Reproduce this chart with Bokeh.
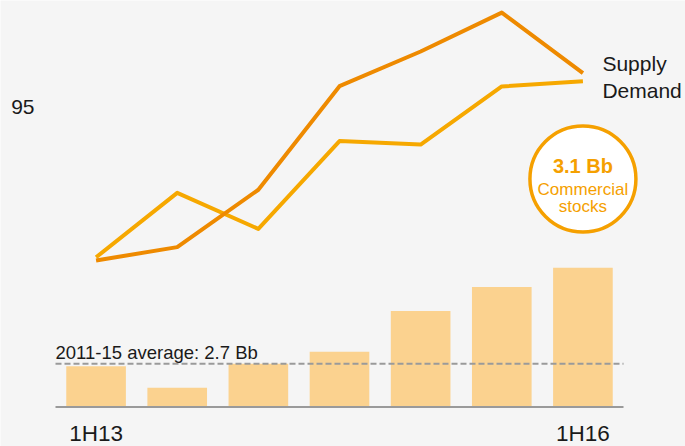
from bokeh.plotting import figure
from bokeh.models import Range1d, FixedTicker
from bokeh.core.properties import value
from bokeh.embed import file_html
from bokeh.resources import INLINE

# ---- data ----
periods = ["1H13", "2H13", "1H14", "2H14", "1H15", "2H15", "1H16"]
supply = [90.63, 91.01, 92.65, 95.61, 96.60, 97.71, 95.98]   # mb/d
demand = [90.72, 92.56, 91.53, 94.04, 93.94, 95.60, 95.75]   # mb/d
stocks = [2.69, 2.60, 2.70, 2.75, 2.92, 3.02, 3.10]          # Bb
avg_stocks = 2.7
shown_x_labels = ["1H13", "1H16"]
y_ticks = [95]

# ---- style ----
FONT = "Liberation Sans"
BG = "#f5f5f5"
TEXT = "#1a1a1a"
SUPPLY_C = "#ee8a00"
DEMAND_C = "#f6a800"
BAR_C = "#fbd28f"
GRAY = "#9a9a9a"
CALLOUT_C = "#f5a000"
STOCK_FLOOR = 2.52
CALLOUT_Y = 3.47

# positions of the half-year periods on the x scale (one unit per period)
xs = [i + 0.5 for i in range(len(periods))]
n = len(periods)

p = figure(width=685, height=446,
           x_range=Range1d(-55 * n / 568, 630 * n / 568),
           y_range=Range1d(85.314, 98.057),
           output_backend="svg", toolbar_location=None,
           min_border_left=0, min_border_right=0,
           min_border_top=0, min_border_bottom=0,
           background_fill_color=BG, border_fill_color=BG,
           outline_line_color=None)
p.extra_y_ranges = {"stocks": Range1d(2.3554, 4.2138)}
p.grid.visible = False

# x axis: period labels, placed at the stocks baseline
xa = p.xaxis[0]
xa.ticker = FixedTicker(ticks=xs)
xa.major_label_overrides = {x: (lab if lab in shown_x_labels else "")
                            for x, lab in zip(xs, periods)}
xa.y_range_name = "stocks"
xa.fixed_location = STOCK_FLOOR
xa.axis_line_color = None
xa.major_tick_line_color = None
xa.minor_tick_line_color = None
xa.major_tick_out = 0
xa.major_tick_in = 0
xa.minor_tick_out = 0
xa.minor_tick_in = 0
xa.major_label_standoff = 14
xa.major_label_text_font = FONT
xa.major_label_text_font_size = "22.5px"
xa.major_label_text_color = TEXT

# y axis: single reference level, placed at the start of the periods
ya = p.yaxis[0]
ya.ticker = FixedTicker(ticks=y_ticks)
ya.fixed_location = 0
ya.axis_line_color = None
ya.major_tick_line_color = None
ya.minor_tick_line_color = None
ya.major_tick_out = 0
ya.major_tick_in = 0
ya.minor_tick_out = 0
ya.minor_tick_in = 0
ya.major_label_standoff = 21
ya.major_label_text_font = FONT
ya.major_label_text_font_size = "21px"
ya.major_label_text_color = TEXT

# bars: commercial stocks
p.vbar(x=xs, top=stocks, bottom=STOCK_FLOOR, width=0.735,
       fill_color=BAR_C, line_color=None, y_range_name="stocks")

# baseline and average line across the periods
p.segment(x0=[0], x1=[n], y0=[STOCK_FLOOR], y1=[STOCK_FLOOR],
          line_color=GRAY, line_width=2, y_range_name="stocks")
p.segment(x0=[0], x1=[n], y0=[avg_stocks], y1=[avg_stocks],
          line_color=GRAY, line_width=2, line_dash="6 3", y_range_name="stocks")
p.text(x=[0], y=[avg_stocks], text=[f"2011-15 average: {avg_stocks} Bb"],
       y_range_name="stocks", y_offset=-11.5,
       text_align="left", text_baseline="alphabetic",
       text_font=value(FONT), text_font_size="18.5px", text_color=TEXT)

# supply / demand lines
p.line(xs, demand, line_color=DEMAND_C, line_width=4, line_join="round")
p.line(xs, supply, line_color=SUPPLY_C, line_width=4, line_join="round")

p.text(x=[xs[-1]], y=[supply[-1]], text=["Supply"], x_offset=19.5, y_offset=-10,
       text_align="left", text_baseline="middle",
       text_font=value(FONT), text_font_size="21px", text_color=TEXT)
p.text(x=[xs[-1]], y=[demand[-1]], text=["Demand"], x_offset=19.5, y_offset=9,
       text_align="left", text_baseline="middle",
       text_font=value(FONT), text_font_size="21px", text_color=TEXT)

# callout circle
p.scatter(x=[xs[-1]], y=[CALLOUT_Y], marker="circle", size=106,
          fill_color="white", line_color=CALLOUT_C, line_width=3.5,
          y_range_name="stocks")
p.text(x=[xs[-1]], y=[CALLOUT_Y], text=[f"{stocks[-1]:.1f} Bb"],
       y_range_name="stocks", y_offset=-13, text_align="center",
       text_baseline="alphabetic", text_font=value(FONT), text_font_style="bold",
       text_font_size="20px", text_color=CALLOUT_C)
p.text(x=[xs[-1], xs[-1]], y=[CALLOUT_Y, CALLOUT_Y],
       text=["Commercial", "stocks"], y_range_name="stocks",
       y_offset=[10, 27.5], text_align="center", text_baseline="alphabetic",
       text_font=value(FONT), text_font_size="17px", text_color=CALLOUT_C)

open("out.html", "w").write(file_html(p, INLINE))
